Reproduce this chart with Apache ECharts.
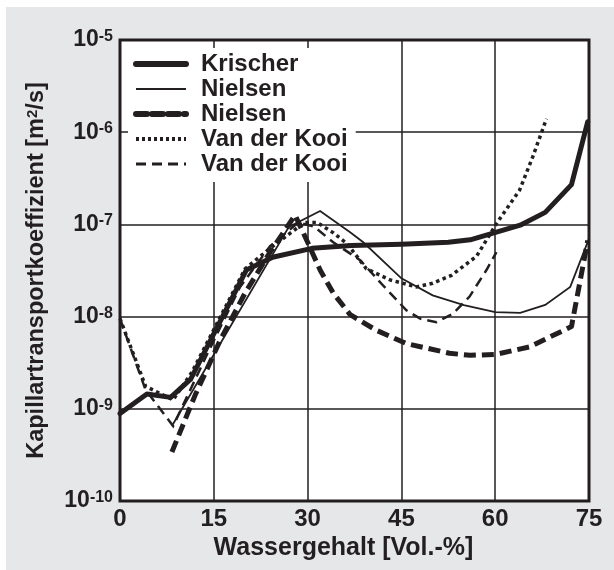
<!DOCTYPE html>
<html>
<head>
<meta charset="utf-8">
<script src="https://cdn.jsdelivr.net/npm/echarts@6/dist/echarts.min.js"></script>
<style>
html,body{margin:0;padding:0;background:#fff;}
#c{width:614px;height:570px;}
</style>
</head>
<body>
<div id="c"></div>
<script>
// ---- data ----
const xTicks = [0, 15, 30, 45, 60, 75];
const yTickExponents = [-10, -9, -8, -7, -6, -5];
const seriesNames = ['Krischer', 'Nielsen', 'Nielsen#2', 'Van der Kooi', 'Van der Kooi#2'];

const krischer = [[0,8.9e-10],[4.3,1.45e-9],[8.1,1.33e-9],[11.3,2.1e-9],[20.2,3.2e-8],[24.4,4.4e-8],[30.7,5.5e-8],[37,5.9e-8],[45,6.1e-8],[52.5,6.4e-8],[56,6.8e-8],[64,9.8e-8],[68,1.35e-7],[72.2,2.7e-7],[74.8,1.3e-6]];
const nielsenThin = [[8.3,6.5e-10],[27,9.4e-8],[32,1.4e-7],[36.8,8.2e-8],[38.9,6.4e-8],[45,2.6e-8],[50,1.7e-8],[55,1.33e-8],[60,1.12e-8],[64,1.1e-8],[68,1.34e-8],[72,2.1e-8],[75,7e-8]];
const nielsenDashed = [[8.3,3.4e-10],[12,1.4e-9],[16,5.5e-9],[20,1.8e-8],[24,5e-8],[28,1.26e-7],[30.1,6.2e-8],[32,3.2e-8],[34.1,1.8e-8],[36.8,1.05e-8],[41,7.1e-9],[45.8,5.1e-9],[52.7,4e-9],[56,3.8e-9],[60.2,3.9e-9],[65.5,4.7e-9],[72.2,7.8e-9],[74.8,6.7e-8]];
const vdkDotted = [[0,9.5e-9],[4.1,1.75e-9],[8.5,1.25e-9],[11.5,2.5e-9],[20,3.3e-8],[24,5.5e-8],[29.5,1.05e-7],[31.5,1.05e-7],[34,8.2e-8],[36.3,6.2e-8],[39.4,3.3e-8],[43.2,2.5e-8],[47.4,2.1e-8],[50,2.3e-8],[53,2.8e-8],[57,4.5e-8],[60.2,1.02e-7],[63.9,2.35e-7],[66,5.4e-7],[68.2,1.4e-6]];
const vdkDashed = [[0,9.5e-9],[4.1,1.6e-9],[8.5,6.5e-10],[14,4e-9],[19.2,2.1e-8],[24,5.8e-8],[28.5,1.05e-7],[31,9.5e-8],[34.1,6.4e-8],[38.4,4.1e-8],[42,2.2e-8],[45.8,1.17e-8],[48,9.5e-9],[50.6,8.7e-9],[53.2,1.07e-8],[55.9,1.65e-8],[58.6,3.2e-8],[60.2,5e-8]];

// ---- chart ----
const ink = '#231f20';
const font = '"Liberation Sans", Arial, Helvetica, sans-serif';
const chart = echarts.init(document.getElementById('c'), null, {renderer: 'canvas'});

const styles = [
  {width: 5, type: 'solid', cap: 'round', join: 'round'},
  {width: 1.8, type: 'solid', cap: 'butt', join: 'miter'},
  {width: 5, type: [12, 6], cap: 'butt', join: 'round'},
  {width: 3.5, type: [3.5, 3.5], cap: 'butt', join: 'miter'},
  {width: 2.5, type: [10, 6], cap: 'butt', join: 'miter'}
];
const legendStyles = [
  {width: 6, type: 'solid', cap: 'round'},
  {width: 2, type: 'solid', cap: 'butt'},
  {width: 6, type: [11, 5], cap: 'round'},
  {width: 4, type: [3, 3], cap: 'butt'},
  {width: 3, type: [10, 6], cap: 'butt'}
];
const datasets = [krischer, nielsenThin, nielsenDashed, vdkDotted, vdkDashed];

const option = {
  backgroundColor: '#fff',
  animation: false,
  graphic: [{
    type: 'rect', z: -100, silent: true,
    shape: {x: 6, y: 7, width: 608, height: 563},
    style: {fill: '#e6e7e8'}
  }],
  grid: {
    left: 120, right: 25, top: 40, bottom: 69,
    show: true, backgroundColor: '#fff', borderColor: ink, borderWidth: 3
  },
  legend: {
    orient: 'vertical', left: 128, top: 48,
    padding: [4, 8, 6, 5], itemGap: 1,
    itemWidth: 50, itemHeight: 14,
    backgroundColor: '#fff', selectedMode: false,
    itemStyle: {opacity: 0},
    textStyle: {color: ink, fontFamily: font, fontWeight: 'bold', fontSize: 24, lineHeight: 24, padding: [0, 0, 0, 10]},
    formatter: n => n.replace(/#\d$/, ''),
    data: seriesNames.map((n, i) => ({name: n, lineStyle: Object.assign({color: ink}, legendStyles[i]), itemStyle: {opacity: 0}}))
  },
  xAxis: {
    type: 'value', min: 0, max: 75, interval: 15,
    axisLine: {show: false}, axisTick: {show: false},
    splitLine: {show: true, lineStyle: {color: ink, width: 1.5}},
    axisLabel: {
      color: ink, fontFamily: font, fontWeight: 'bold', fontSize: 24, margin: 6,
      formatter: v => xTicks.indexOf(v) >= 0 ? String(v) : ''
    },
    name: 'Wassergehalt [Vol.-%]', nameLocation: 'middle', nameGap: 33,
    nameTextStyle: {color: ink, fontFamily: font, fontWeight: 'bold', fontSize: 25, padding: [0, 22, 0, 0]}
  },
  yAxis: {
    type: 'log', logBase: 10, min: 1e-10, max: 1e-5,
    axisLine: {show: false}, axisTick: {show: false},
    splitLine: {show: true, lineStyle: {color: ink, width: 1.5}},
    minorTick: {show: false}, minorSplitLine: {show: false},
    axisLabel: {
      margin: 7,
      formatter: v => {
        const e = Math.round(Math.log10(v));
        return yTickExponents.indexOf(e) >= 0 ? '{b|10}{s|' + e + '}' : '';
      },
      rich: {
        b: {color: ink, fontFamily: font, fontWeight: 'bold', fontSize: 23, lineHeight: 23, padding: [9, 0, 9, 0], verticalAlign: 'middle'},
        s: {color: ink, fontFamily: font, fontWeight: 'bold', fontSize: 16, lineHeight: 16, verticalAlign: 'top'}
      }
    },
    name: 'Kapillartransportkoeffizient [m{sup|2}/s]', nameLocation: 'middle', nameGap: 71,
    nameTextStyle: {
      color: ink, fontFamily: font, fontWeight: 'bold', fontSize: 23.5,
      rich: {sup: {color: ink, fontFamily: font, fontWeight: 'bold', fontSize: 15, verticalAlign: 'top', lineHeight: 15}}
    }
  },
  series: seriesNames.map((n, i) => ({
    name: n, type: 'line', data: datasets[i],
    symbol: 'none', showSymbol: false, silent: true,
    lineStyle: Object.assign({color: ink}, styles[i]),
    itemStyle: {color: ink},
    z: 5 - i
  }))
};
chart.setOption(option);
</script>
</body>
</html>
